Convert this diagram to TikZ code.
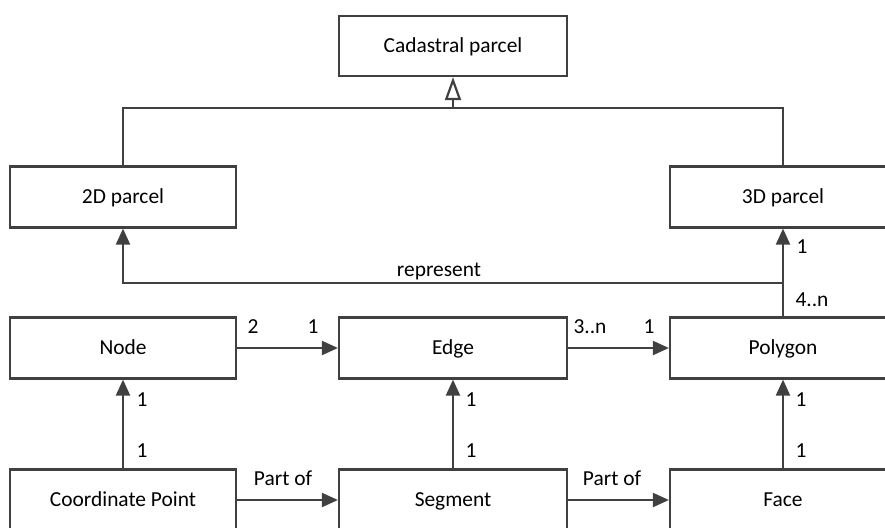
\documentclass[tikz,border=0pt]{standalone}
\usepackage{fontspec}
\setmainfont{Carlito}
\usetikzlibrary{arrows.meta}
\definecolor{ln}{HTML}{404040}
\begin{document}
\begin{tikzpicture}[x=1pt,y=-1pt,
  font=\fontsize{21.4}{25}\selectfont,
  box/.style={draw=ln, line width=2.2pt, rectangle, minimum height=61pt, inner sep=0pt, fill=white, text height=15.5pt, text depth=3pt},
  wbox/.style={box, minimum width=226pt},
  cbox/.style={box, minimum width=228pt},
  conn/.style={draw=ln, line width=2.2pt},
  arr/.style={conn, -{Triangle[length=16pt,width=14pt]}},
  gen/.style={conn, -{Triangle[open,length=23pt,width=16pt,fill=white]}},
  lbl/.style={inner sep=0pt, text=black, anchor=base}]
\useasboundingbox (0,0) rectangle (885,527);
% boxes
\node[box, minimum width=228pt, minimum height=60pt] (cad) at (453,46) {Cadastral parcel};
\node[wbox] (p2d) at (123,197) {2D parcel};
\node[wbox] (p3d) at (783,197) {3D parcel};
\node[wbox] (node) at (123,348) {Node};
\node[cbox] (edge) at (453,348) {Edge};
\node[wbox] (poly) at (783,348) {Polygon};
\node[wbox] (coord) at (123,500) {Coordinate Point};
\node[cbox] (seg) at (453,500) {Segment};
\node[wbox] (face) at (783,500) {Face};
% generalization
\coordinate (j) at (453,108);
\draw[conn] (p2d.north) |- (j) -| (p3d.north);
\draw[gen] (j) -- (cad.south);
% represent
\coordinate (r) at (783,283);
\draw[arr] (r) -| (p2d.south);
\node[lbl] (rep) at (439,276) {represent};
\draw[arr] (poly.north) -- (p3d.south);
\node[lbl] (m1) at (802,253) {1};
\node[lbl] (m2) at (812,306) {4..n};
% row 1
\draw[arr] (node.east) -- (edge.west);
\node[lbl] (a1) at (253,333) {2};
\node[lbl] (a2) at (313,333) {1};
\draw[arr] (edge.east) -- (poly.west);
\node[lbl] (b1) at (590,333) {3..n};
\node[lbl] (b2) at (649,333) {1};
% verticals
\draw[arr] (coord.north) -- (node.south);
\node[lbl] (c1) at (142,406) {1};
\node[lbl] (c2) at (142,457) {1};
\draw[arr] (seg.north) -- (edge.south);
\node[lbl] (d1) at (471,406) {1};
\node[lbl] (d2) at (471,457) {1};
\draw[arr] (face.north) -- (poly.south);
\node[lbl] (e1) at (801,406) {1};
\node[lbl] (e2) at (801,457) {1};
% row 2
\draw[arr] (coord.east) -- (seg.west);
\node[lbl] (f1) at (283,485) {Part of};
\draw[arr] (seg.east) -- (face.west);
\node[lbl] (g1) at (612,485) {Part of};
\end{tikzpicture}
\end{document}
